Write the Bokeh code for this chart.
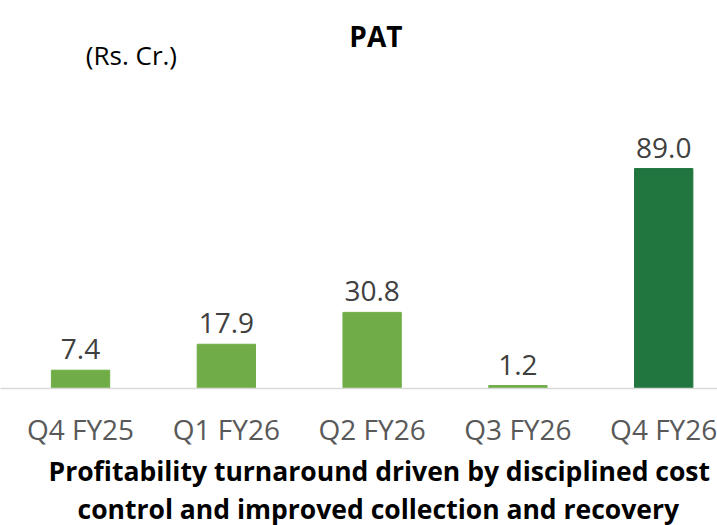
from bokeh.plotting import figure
from bokeh.models import Range1d, FixedTicker, Label, Title, ColumnDataSource
from bokeh.core.properties import value
from bokeh.embed import file_html
from bokeh.resources import INLINE

# ---- data ----
categories = ["Q4 FY25", "Q1 FY26", "Q2 FY26", "Q3 FY26", "Q4 FY26"]
pat_values = [7.4, 17.9, 30.8, 1.2, 89.0]
title_text = "PAT"
unit_text = "(Rs. Cr.)"
footer_lines = [
    "Profitability turnaround driven by disciplined cost",
    "control and improved collection and recovery",
]

# ---- styles ----
LIGHT = "#70AD47"
DARK = "#21763F"
bar_colors = [LIGHT, LIGHT, LIGHT, LIGHT, DARK]
FONT = "Open Sans"
footer_offsets = [48, 77]

positions = list(range(len(categories)))
source = ColumnDataSource(dict(
    x=positions,
    top=pat_values,
    color=bar_colors,
    label=[f"{v:.1f}" for v in pat_values],
))

p = figure(
    frame_width=717, frame_height=388,
    x_range=Range1d(-0.549, 4.369), y_range=Range1d(0, 157.0),
    output_backend="svg", toolbar_location=None,
    y_axis_location=None, min_border=0,
    outline_line_color=None,
)
p.xgrid.visible = False
p.ygrid.visible = False
p.background_fill_color = "white"
p.border_fill_color = "white"

p.vbar(x="x", top="top", width=0.4, color="color", source=source)
p.text(x="x", y="top", text="label", source=source,
       text_font=value(FONT), text_font_size="28px", text_color="#404040",
       text_align="center", text_baseline="alphabetic", y_offset=-21)

ax = p.xaxis[0]
ax.ticker = FixedTicker(ticks=positions)
ax.major_label_overrides = {i: c for i, c in zip(positions, categories)}
ax.major_label_text_font = FONT
ax.major_label_text_font_size = "28px"
ax.major_label_text_color = "#595959"
ax.major_label_standoff = 21
ax.major_tick_line_color = None
ax.minor_tick_line_color = None
ax.major_tick_in = 0
ax.major_tick_out = 0
ax.axis_line_color = "#D9D9D9"
ax.axis_line_width = 1.5

p.add_layout(Label(x=2.026, y=142.8, text=title_text, text_font=FONT,
                   text_font_size="28px", text_font_style="bold",
                   text_color="black", text_align="center",
                   text_baseline="alphabetic"))
p.add_layout(Label(x=0.349, y=135.0, text=unit_text, text_font=FONT,
                   text_font_size="26px", text_color="black",
                   text_align="center", text_baseline="alphabetic"))

for line, off in zip(footer_lines, footer_offsets):
    p.add_layout(Title(text=line, align="left", text_font=FONT,
                       text_font_size="26.5px", text_font_style="bold",
                       text_color="black", standoff=0, offset=off), "below")

open("out.html", "w").write(file_html(p, INLINE))
